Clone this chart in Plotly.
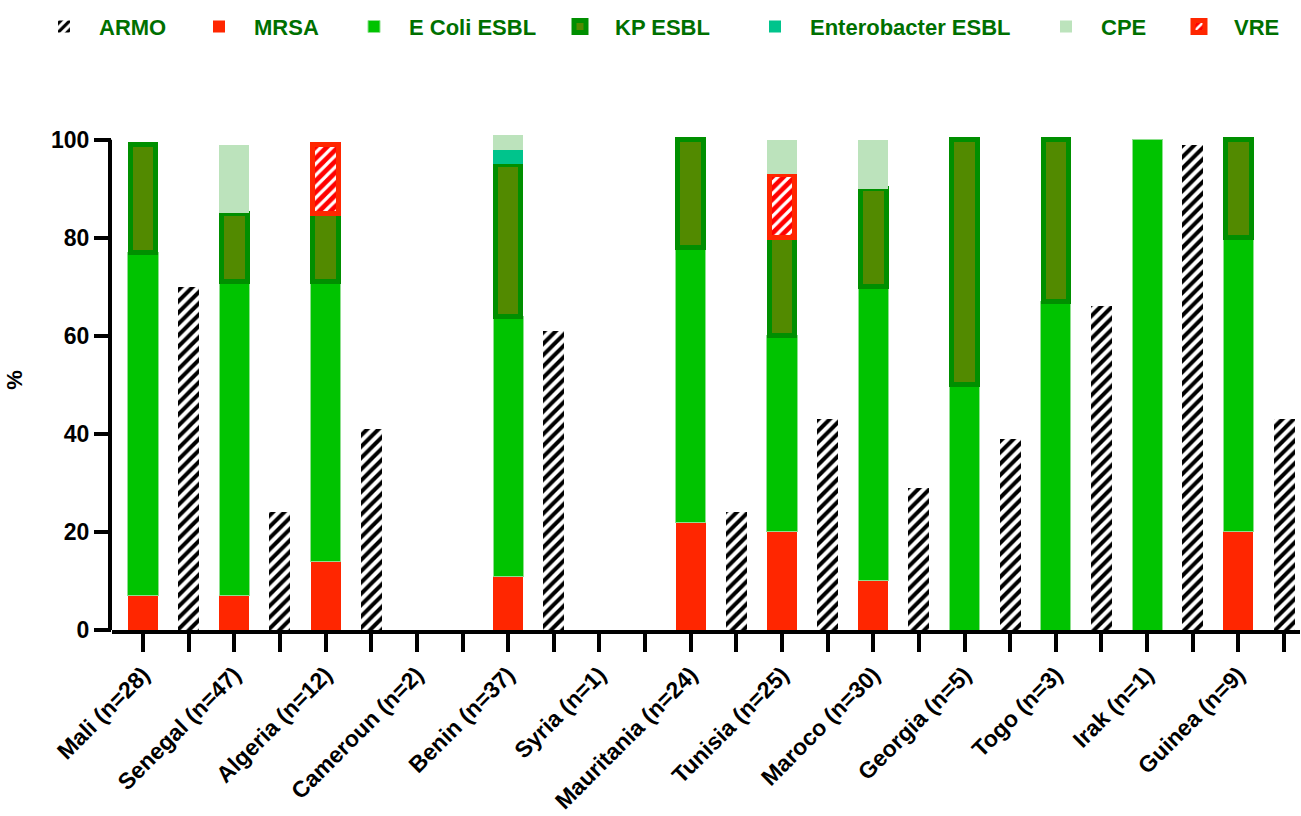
import plotly.graph_objects as go

countries = ["Mali (n=28)", "Senegal (n=47)", "Algeria (n=12)", "Cameroun (n=2)",
             "Benin (n=37)", "Syria (n=1)", "Mauritania (n=24)", "Tunisia (n=25)",
             "Maroco (n=30)", "Georgia (n=5)", "Togo (n=3)", "Irak (n=1)", "Guinea (n=9)"]
mrsa = [7, 7, 14, 0, 11, 0, 22, 20, 10, 0, 0, 0, 20]
ecoli = [70, 64, 57, 0, 53, 0, 56, 40, 60, 50, 67, 100, 60]
kp = [22, 14, 14, 0, 31, 0, 22, 20, 20, 50, 33, 0, 20]
entero = [0, 0, 0, 0, 3, 0, 0, 0, 0, 0, 0, 0, 0]
vre = [0, 0, 14, 0, 0, 0, 0, 13, 0, 0, 0, 0, 0]
cpe = [0, 14, 0, 0, 3, 0, 0, 7, 10, 0, 0, 0, 0]
armo = [70, 24, 41, 0, 61, 0, 24, 43, 29, 39, 66, 99, 43]
y_ticks = [0, 20, 40, 60, 80, 100]

def nz(vals):
    return [v if v else None for v in vals]

x_stack = [2 * i for i in range(len(countries))]
x_armo = [2 * i + 1 for i in range(len(countries))]
tickvals = list(range(2 * len(countries)))
ticktext = []
for c in countries:
    ticktext += [c, ""]

FONT = "Liberation Sans, Arial, sans-serif"
W_STACK = 0.66
W_ARMO = 0.46

fig = go.Figure()
fig.add_trace(go.Bar(name="MRSA", x=x_stack, y=nz(mrsa), width=W_STACK, legend="legend2",
                     marker=dict(color="#FF2600", line=dict(width=0))))
fig.add_trace(go.Bar(name="E Coli ESBL", x=x_stack, y=nz(ecoli), width=W_STACK, legend="legend3",
                     marker=dict(color="#00C300", line=dict(width=1, color="#8EE08E"))))
fig.add_trace(go.Bar(name="KP ESBL", x=x_stack, y=nz(kp), width=W_STACK - 0.1, legend="legend4",
                     marker=dict(color="#528A00", line=dict(width=5, color="#008F00"))))
fig.add_trace(go.Bar(name="Enterobacter ESBL", x=x_stack, y=nz(entero), width=W_STACK,
                     legend="legend5", marker=dict(color="#00C48C", line=dict(width=0))))
fig.add_trace(go.Bar(name="VRE", x=x_stack, y=nz(vre), width=W_STACK - 0.1, legend="legend7",
                     marker=dict(color="#FF2600", line=dict(width=5, color="#FF2600"),
                                 pattern=dict(shape="/", fgcolor="white", bgcolor="#FF0000",
                                              size=8, solidity=0.4, fillmode="replace"))))
fig.add_trace(go.Bar(name="CPE", x=x_stack, y=nz(cpe), width=W_STACK, legend="legend6",
                     marker=dict(color="#BCE3BC", line=dict(width=0))))
fig.add_trace(go.Bar(name="ARMO", x=x_armo, y=nz(armo), width=W_ARMO, legend="legend",
                     marker=dict(color="black", line=dict(width=0),
                                 pattern=dict(shape="/", fgcolor="black", bgcolor="white",
                                              size=8, solidity=0.5, fillmode="replace"))))

legend_x = [29, 184, 339, 545, 740, 1031, 1164]

def leg(px):
    return dict(orientation="h", xref="container", yref="container",
                x=px / 1301, y=0.993, xanchor="left", yanchor="top",
                font=dict(family=FONT, size=22, color="#007000", weight="bold"),
                itemwidth=60, bgcolor="rgba(0,0,0,0)")

fig.update_layout(
    width=1301, height=816,
    barmode="stack",
    plot_bgcolor="white", paper_bgcolor="white",
    margin=dict(l=112, r=1, t=130, b=186, autoexpand=False),
    font=dict(family=FONT, size=22, color="black", weight="bold"),
    legend=leg(legend_x[0]), legend2=leg(legend_x[1]), legend3=leg(legend_x[2]),
    legend4=leg(legend_x[3]), legend5=leg(legend_x[4]), legend6=leg(legend_x[5]),
    legend7=leg(legend_x[6]),
    showlegend=True,
    shapes=[dict(type="line", xref="paper", yref="y", x0=-2 / 1188, x1=-2 / 1188,
                 y0=0, y1=100, line=dict(color="black", width=4))],
)
fig.update_xaxes(range=[-0.68, 25.35], tickmode="array", tickvals=tickvals, ticktext=ticktext,
                 tickangle=-45, ticks="outside", ticklen=18, tickwidth=4, tickcolor="black",
                 showline=True, linewidth=4, linecolor="black", showgrid=False, zeroline=False,
                 automargin=False,
                 tickfont=dict(family=FONT, size=23, color="black", weight="bold"))
fig.update_yaxes(range=[0, 102], tickmode="array", tickvals=y_ticks,
                 ticks="outside", ticklen=17, tickwidth=4, tickcolor="black",
                 showline=False, showgrid=False, zeroline=False, automargin=False,
                 tickfont=dict(family=FONT, size=23, color="black", weight="bold"),
                 title=dict(text="%", standoff=22, font=dict(family=FONT, size=22, weight="bold")))

fig.write_html("out.html", config={"displayModeBar": False},
               post_script="document.body.style.margin='0';")
